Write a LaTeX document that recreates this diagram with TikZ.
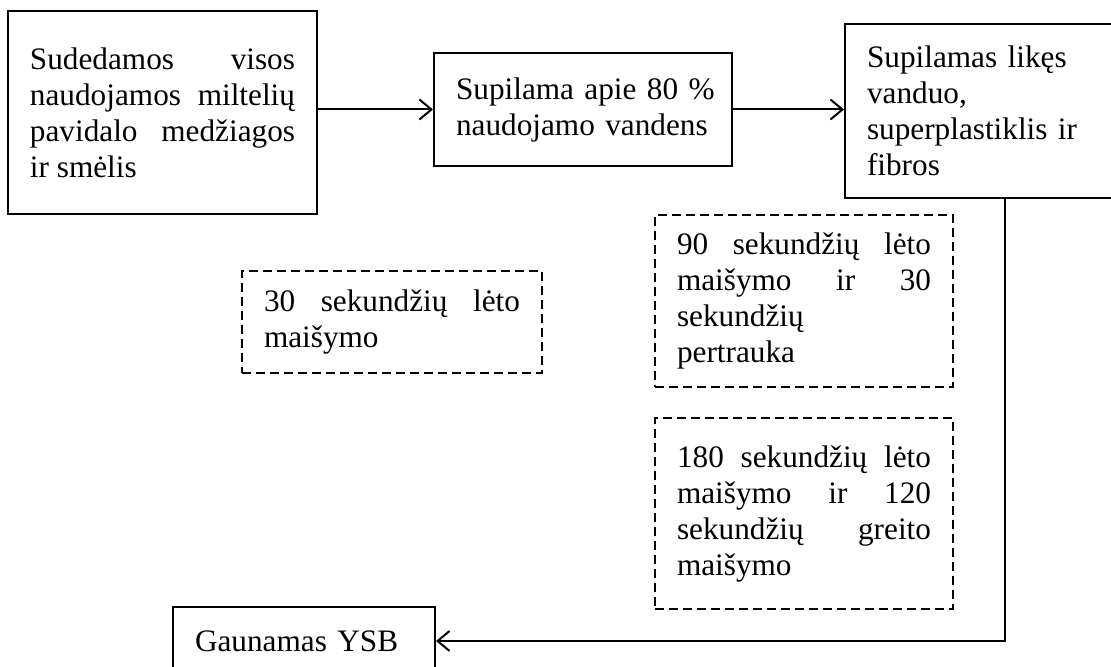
\documentclass[tikz,border=0pt]{standalone}
\usepackage{fontspec}
\setmainfont{Liberation Serif}
\usetikzlibrary{arrows.meta}
\hyphenpenalty=10000
\exhyphenpenalty=10000
\tolerance=9999

\begin{document}
\begin{tikzpicture}[x=0.4pt, y=-0.4pt,
  every node/.style={font=\fontsize{12.5}{14.4}\selectfont, inner xsep=8.8pt, inner ysep=0pt, line width=0.8pt},
  stepbox/.style={draw, text width=101.6pt, align=left},
  notebox/.style={draw, dash pattern=on 3.6pt off 2pt, text width=101.6pt, align=justify},
  flow/.style={line width=0.8pt, -{Straight Barb[length=4.8pt, width=8pt]}}]
  \clip (0,0) rectangle (1111,666);
  \node[stepbox, align=justify, text width=106pt, minimum height=81.2pt] (mix) at (162.5,112.5) {Sudedamos visos\linebreak naudojamos miltelių\linebreak pavidalo medžiagos\linebreak ir smėlis};
  \node[stepbox, minimum height=45.2pt] (water) at (583,109.5) {\mbox{Supilama apie 80 \%}\\ naudojamo vandens};
  \node[stepbox, minimum height=69.6pt] (fibre) at (994,111) {Supilamas likęs\\ vanduo,\\ superplastiklis ir\\ fibros};
  \node[stepbox, text width=87.2pt, minimum height=27.2pt] (ysb) at (304,641) {Gaunamas YSB};
  \node[notebox, text width=102.4pt, minimum height=40.8pt] (slow) at (392,322) {30 sekundžių lėto\linebreak maišymo};
  \node[notebox, minimum height=68.8pt] (pause) at (804,301) {90 sekundžių lėto\linebreak maišymo ir 30\linebreak sekundžių\linebreak pertrauka};
  \node[notebox, minimum height=76.4pt] (fast) at (804,513.5) {180 sekundžių lėto\linebreak maišymo ir 120\linebreak sekundžių greito\linebreak maišymo};
  \coordinate (bend) at (1005,641);
  \draw[flow] (mix.east |- water.west) -- (water.west);
  \draw[flow] (water.east) -- (water.east -| fibre.west);
  \draw[flow] (fibre.south -| bend) -- (bend) -- (ysb.east);
\end{tikzpicture}
\end{document}
